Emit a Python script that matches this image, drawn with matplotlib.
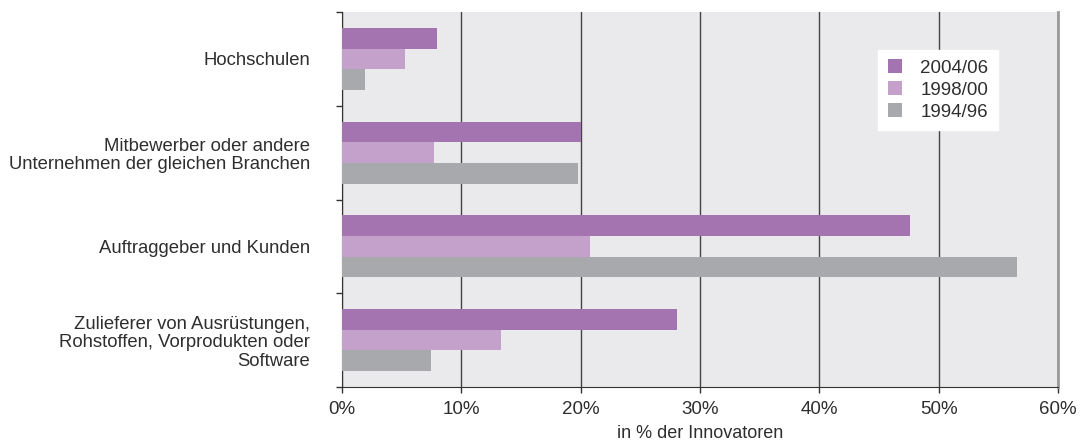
import numpy as np
import matplotlib
matplotlib.use('Agg')
import matplotlib.pyplot as plt

plt.rcParams['font.family'] = ['Liberation Sans', 'DejaVu Sans']

# Daten (in % der Innovatoren)
categories = ['Hochschulen',
              'Mitbewerber oder andere\nUnternehmen der gleichen Branchen',
              'Auftraggeber und Kunden',
              'Zulieferer von Ausrüstungen,\nRohstoffen, Vorprodukten oder\nSoftware']
series = ['2004/06', '1998/00', '1994/96']
v_2004 = [8.0, 20.0, 47.6, 28.1]
v_1998 = [5.3, 7.7, 20.8, 13.3]
v_1994 = [1.9, 19.8, 56.6, 7.5]
colors = ['#a374b0', '#c3a1cb', '#a8a9ad']
xticks = [0, 10, 20, 30, 40, 50, 60]

fig = plt.figure(figsize=(10.85, 4.43), dpi=100)
ax = fig.add_axes([0.3152, 0.1264, 0.6599, 0.8465])
ax.set_facecolor('#eaeaed')

y = np.arange(len(categories))
h = 0.22
for i, (vals, lab) in enumerate(zip([v_2004, v_1998, v_1994], series)):
    ax.barh(y + (i - 1) * h, vals, height=h, color=colors[i], label=lab, zorder=3)

ax.set_xlim(0, 60)
ax.set_ylim(len(categories) - 0.5, -0.5)
ax.set_xticks(xticks)
ax.set_xticklabels(['{}%'.format(t) for t in xticks], fontsize=13.5, color='#2e2e2e')
ax.xaxis.grid(True, color='#444444', linewidth=1, zorder=0)

# Trennstriche zwischen Kategorien, Beschriftungen in der Mitte
ax.set_yticks(np.arange(len(categories) + 1) - 0.5)
ax.set_yticklabels([])
ax.set_yticks(y, minor=True)
ax.set_yticklabels(categories, minor=True, fontsize=13.3, color='#2e2e2e', linespacing=1.13)
ax.tick_params(axis='y', which='major', length=4, width=1, color='#333333')
ax.tick_params(axis='y', which='minor', length=0, pad=23)
ax.tick_params(axis='x', length=4, width=1, color='#333333', pad=6)

ax.spines['top'].set_visible(False)
ax.spines['right'].set_color('#9a9a9a')
ax.spines['right'].set_linewidth(2)
ax.spines['left'].set_color('#333333')
ax.spines['bottom'].set_color('#333333')

ax.set_xlabel('in % der Innovatoren', fontsize=13, color='#2e2e2e', labelpad=5)

leg = ax.legend(loc='upper left', bbox_to_anchor=(0.749, 0.899), frameon=True, fancybox=False,
                fontsize=13.5, handlelength=0.75, handleheight=0.75, handletextpad=1.0,
                labelspacing=0.25, borderpad=0.5, borderaxespad=0)
leg.get_frame().set_facecolor('white')
leg.get_frame().set_edgecolor('white')
leg.get_frame().set_alpha(1)
for t in leg.get_texts():
    t.set_color('#2e2e2e')

fig.savefig('out.png', dpi=100)
